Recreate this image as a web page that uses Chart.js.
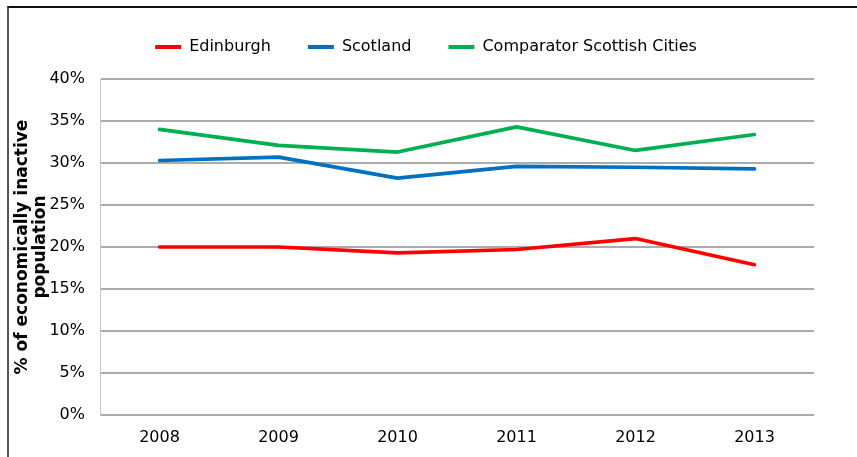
<!DOCTYPE html>
<html>
<head>
<meta charset="utf-8">
<script src="https://cdn.jsdelivr.net/npm/chart.js@4"></script>
<style>
  html, body { margin: 0; padding: 0; background: #fff; overflow: hidden; }
  #wrap { position: relative; width: 857px; height: 457px; }
  #frame {
    position: absolute; left: 7px; top: 6px; width: 900px; height: 500px;
    border-top: 2px solid #111; border-left: 2px solid #555;
  }
  #chart { position: absolute; left: 0; top: 0; }
</style>
</head>
<body>
<div id="wrap">
  <div id="frame"></div>
  <canvas id="chart" width="857" height="457"></canvas>
</div>
<script>
// Economically inactive population, share of working-age population (%)
const years = ['2008', '2009', '2010', '2011', '2012', '2013'];
const edinburgh = [20.0, 20.0, 19.3, 19.7, 21.0, 17.9];
const scotland = [30.3, 30.7, 28.2, 29.6, 29.5, 29.3];
const comparatorCities = [34.0, 32.1, 31.3, 34.3, 31.5, 33.4];
const yTicks = [0, 5, 10, 15, 20, 25, 30, 35, 40];

const seriesNames = ['Edinburgh', 'Scotland', 'Comparator Scottish Cities'];
const seriesColors = ['#ff0000', '#0070c0', '#00b050'];
const seriesValues = [edinburgh, scotland, comparatorCities];

const FONT = "'DejaVu Sans', Verdana, sans-serif";

// Extra space between the legend row and the plot area
const legendGap = {
  id: 'legendGap',
  beforeLayout(chart, args, opts) {
    const legend = chart.legend;
    if (legend && !legend._gapPatched) {
      const fit = legend.fit;
      legend.fit = function () {
        fit.call(this);
        this.height += opts.gap || 0;
      };
      legend._gapPatched = true;
    }
  }
};

new Chart(document.getElementById('chart'), {
  type: 'line',
  data: {
    labels: years,
    datasets: seriesNames.map((name, i) => ({
      label: name,
      data: seriesValues[i],
      borderColor: seriesColors[i],
      backgroundColor: seriesColors[i],
      borderWidth: 3.6,
      borderCapStyle: 'round',
      borderJoinStyle: 'round',
      pointRadius: 0,
      pointHoverRadius: 0,
      tension: 0,
      fill: false
    }))
  },
  plugins: [legendGap],
  options: {
    responsive: false,
    animation: false,
    layout: { padding: { top: 2, right: 5, bottom: 0, left: 0 } },
    plugins: {
      legendGap: { gap: 14 },
      tooltip: { enabled: false },
      legend: {
        position: 'top',
        align: 'center',
        labels: {
          boxWidth: 26,
          boxHeight: 4,
          padding: 37,
          color: '#000',
          font: { family: FONT, size: 16 },
          generateLabels(chart) {
            return Chart.defaults.plugins.legend.labels.generateLabels(chart)
              .map(item => Object.assign(item, { lineWidth: 0 }));
          }
        }
      }
    },
    scales: {
      x: {
        type: 'category',
        offset: true,
        grid: { display: false, drawTicks: false },
        border: { display: false },
        ticks: {
          color: '#000',
          padding: 13,
          font: { family: FONT, size: 16 }
        },
        afterFit(scale) { scale.height = 42; }
      },
      y: {
        min: 0,
        max: 40,
        afterBuildTicks(scale) {
          scale.ticks = yTicks.map(v => ({ value: v }));
        },
        grid: { color: '#ababab', lineWidth: 2, drawTicks: false },
        border: { display: true, color: '#c4c4c4', width: 1 },
        ticks: {
          color: '#000',
          padding: 15,
          font: { family: FONT, size: 16 },
          callback: v => v + '%'
        },
        title: {
          display: true,
          text: ['% of economically inactive', 'population'],
          color: '#000',
          font: { family: FONT, size: 17, weight: 'bold', lineHeight: 1.05 },
          padding: { top: 14, bottom: 0 }
        },
        afterFit(scale) { scale.width = 100; }
      },
      yRight: {
        position: 'right',
        display: true,
        grid: { display: false, drawTicks: false },
        border: { display: false },
        ticks: { display: false },
        afterFit(scale) { scale.width = 38; }
      }
    }
  }
});
</script>
</body>
</html>
